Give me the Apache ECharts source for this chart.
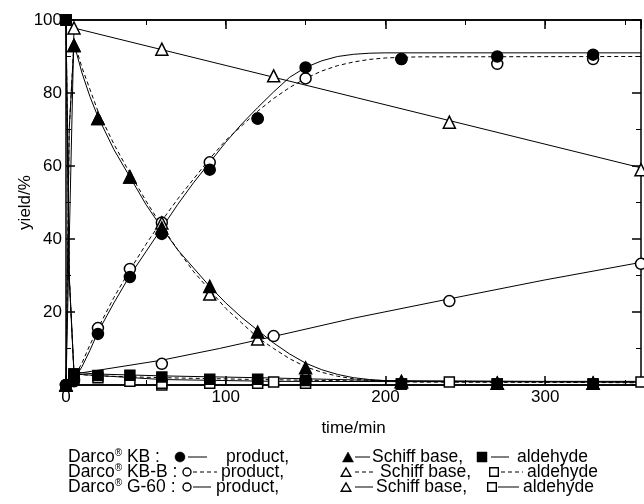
<!DOCTYPE html>
<html><head><meta charset="utf-8">
<script src="https://cdn.jsdelivr.net/npm/echarts@6/dist/echarts.min.js"></script>
<style>html,body{margin:0;padding:0;background:#fff}#c{width:644px;height:504px}</style>
</head><body><div id="c"></div>
<script>
// ---- measured data ----
const timeKB = [0, 5, 20, 40, 60, 90, 120, 150, 210, 270, 330];
const kbProduct = [0, 1, 14, 29.6, 41.4, 59, 73, 87, 89.3, 90, 90.5];
const kbSchiff = [0, 93, 73, 57, 43, 27, 14.5, 4.7, 1, 0.5, 0.5];
const kbAldehyde = [100, 3, 2.6, 2.7, 2.2, 1.6, 1.6, 1.2, 0.3, 0.3, 0.3];

const timeKBB = [0, 5, 20, 40, 60, 90, 120, 150, 210, 270, 330];
const kbbProduct = [0, 1.5, 15.6, 31.8, 44.5, 61, 73, 84, 89.3, 88, 89.3];
const kbbSchiff = [0, 93, 73, 57, 44.4, 24.9, 12.6, 3, 0.8, 0.5, 0.5];
const kbbAldehyde = [100, 2.5, 2, 1, 0.5, 0.5, 0.5, 0.5, 0.3, 0.3, 0.3];

const timeG = [0, 5, 60, 130, 240, 360];
const gProduct = [0, 1.5, 5.8, 13.4, 23, 33.2];
const gSchiff = [0, 97.8, 92, 84.7, 72, 59];
const gAldehyde = [100, 3, 0, 0.8, 0.8, 0.8];

// fitted curves
const fitKBProductT = [0, 5, 10, 15, 20, 30, 40, 50, 60, 70, 80, 90, 100, 110, 120, 130, 140, 150, 160, 170, 180, 190, 200, 210, 360];
const fitKBProduct  = [0, 1.5, 5, 9.5, 14.5, 22.5, 30, 36.5, 43, 49.5, 55.5, 61, 66.5, 71.5, 76, 80.3, 84.3, 87, 88.8, 90, 90.6, 90.9, 91, 91, 91];
const fitKBBProductT = [0, 5, 10, 15, 20, 30, 40, 50, 60, 70, 80, 90, 100, 110, 120, 130, 140, 150, 160, 170, 180, 190, 200, 220, 360];
const fitKBBProduct  = [0, 2, 6, 11, 15.5, 24, 31.5, 38.5, 45, 51, 56.5, 62, 67, 71, 75, 78.5, 81.5, 84, 86, 87.5, 88.5, 89.2, 89.6, 89.9, 90];
const fitKBSchiffT = [0, 2, 5, 10, 15, 20, 30, 40, 50, 60, 70, 80, 90, 100, 110, 120, 130, 140, 150, 160, 170, 180, 190, 200, 220, 360];
const fitKBSchiff  = [0, 70, 93.5, 85.5, 79, 73.5, 64.5, 57, 49.5, 43, 37, 32, 27, 22.5, 18.5, 15, 11.5, 8.5, 6, 4.2, 2.9, 2, 1.5, 1.2, 1, 1];
const fitKBBSchiffT = [0, 2, 5, 10, 15, 20, 30, 40, 50, 60, 70, 80, 90, 100, 110, 120, 130, 140, 150, 160, 170, 180, 190, 200, 220, 360];
const fitKBBSchiff  = [0, 70, 94, 87, 81, 75, 66, 58, 50.5, 43.5, 37, 31, 26, 21, 17, 13, 10, 7.2, 5, 3.5, 2.4, 1.7, 1.3, 1, 0.8, 0.8];
const fitGProductT = [0, 5, 60, 96, 130, 180, 240, 300, 360];
const fitGProduct  = [0, 3, 6.8, 10, 13.3, 18.3, 23.6, 28.8, 33.6];
const fitGSchiffT = [0, 5, 360];
const fitGSchiff  = [0, 97.8, 59.5];
const fitKBAldT = [0, 2, 5, 20, 60, 120, 200, 360];
const fitKBAld  = [100, 30, 3.5, 3, 2.5, 2, 1.2, 0.8];
const fitKBBAldT = [0, 2, 5, 20, 60, 120, 200, 360];
const fitKBBAld  = [100, 30, 3, 2.5, 2, 1.5, 1, 0.6];
const fitGAldT = [0, 2, 5, 60, 130, 360];
const fitGAld  = [100, 30, 3, 1.5, 1, 0.8];

const xTicks = [0, 100, 200, 300];
const yTicks = [20, 40, 60, 80, 100];

// legend text rows
const legendRows = ['KB', 'KB-B', 'G-60'];
const legendWords = ['product,', 'Schiff base,', 'aldehyde'];

function pairs(t, v) { return t.map((x, i) => [x, v[i]]); }

const FONT = 'Liberation Sans, Arial, sans-serif';
const chart = echarts.init(document.getElementById('c'), null, {renderer: 'canvas'});

function lineS(t, v, dashed) {
  return {
    type: 'line', data: pairs(t, v), showSymbol: false, symbol: 'none', smooth: false,
    silent: true, z: 2,
    lineStyle: {color: '#000', width: 1, type: dashed ? [4, 3] : 'solid'}
  };
}
function scat(t, v, symbol, filled, size) {
  return {
    type: 'scatter', data: pairs(t, v), symbol: symbol, symbolSize: size, z: 3,
    itemStyle: {color: filled ? '#000' : '#fff', borderColor: '#000', borderWidth: 1.5, opacity: 1}
  };
}

const axisCommon = {
  axisLine: {show: true, onZero: false, lineStyle: {color: '#000', width: 1.5}},
  splitLine: {show: false}
};

const option = {
  backgroundColor: '#fff',
  animation: false,
  grid: {left: 66, right: 3, top: 20, bottom: 119, containLabel: false},
  xAxis: [
    Object.assign({}, axisCommon, {
      type: 'value', position: 'bottom', min: 0, max: 360, interval: 100,
      name: 'time/min', nameLocation: 'middle', nameGap: 35, nameMoveOverlap: false,
      nameTextStyle: {fontSize: 17, color: '#000', fontFamily: FONT},
      axisTick: {show: true, inside: true, length: 9, lineStyle: {color: '#000', width: 1.5}},
      axisLabel: {show: true, fontSize: 17, color: '#000', fontFamily: FONT, margin: 4, showMaxLabel: false,
        formatter: v => xTicks.includes(v) ? String(v) : ''}
    }),
    Object.assign({}, axisCommon, {
      type: 'value', position: 'bottom', min: 0, max: 360, interval: 50,
      axisTick: {show: true, inside: true, length: 5, lineStyle: {color: '#000', width: 1}},
      axisLabel: {show: false}
    }),
    Object.assign({}, axisCommon, {
      type: 'value', position: 'top', min: 0, max: 360, interval: 100,
      axisTick: {show: true, inside: true, length: 9, lineStyle: {color: '#000', width: 1.5}},
      axisLabel: {show: false}
    }),
    Object.assign({}, axisCommon, {
      type: 'value', position: 'top', min: 0, max: 360, interval: 50,
      axisTick: {show: true, inside: true, length: 5, lineStyle: {color: '#000', width: 1}},
      axisLabel: {show: false}
    })
  ],
  yAxis: [
    Object.assign({}, axisCommon, {
      type: 'value', position: 'left', min: 0, max: 100, interval: 20,
      name: 'yield/%', nameLocation: 'middle', nameGap: 32, nameRotate: 90, nameMoveOverlap: false,
      nameTextStyle: {fontSize: 17, color: '#000', fontFamily: FONT},
      axisTick: {show: true, inside: true, length: 9, lineStyle: {color: '#000', width: 1.5}},
      minorTick: {show: true, splitNumber: 2, length: 5, lineStyle: {color: '#000', width: 1}},
      axisLabel: {show: true, fontSize: 17, color: '#000', fontFamily: FONT, margin: 4, showMinLabel: false,
        formatter: v => yTicks.includes(v) ? String(v) : ''}
    }),
    Object.assign({}, axisCommon, {
      type: 'value', position: 'right', min: 0, max: 100, interval: 20,
      axisTick: {show: true, inside: true, length: 9, lineStyle: {color: '#000', width: 1.5}},
      minorTick: {show: true, splitNumber: 2, length: 5, lineStyle: {color: '#000', width: 1}},
      axisLabel: {show: false}
    })
  ],
  series: [
    lineS(fitGAldT, fitGAld, false),
    lineS(fitKBBAldT, fitKBBAld, true),
    lineS(fitKBAldT, fitKBAld, false),
    lineS(fitGProductT, fitGProduct, false),
    lineS(fitGSchiffT, fitGSchiff, false),
    lineS(fitKBBSchiffT, fitKBBSchiff, true),
    lineS(fitKBSchiffT, fitKBSchiff, false),
    lineS(fitKBBProductT, fitKBBProduct, true),
    lineS(fitKBProductT, fitKBProduct, false),
    scat(timeG, gAldehyde, 'rect', false, 10),
    scat(timeKBB, kbbAldehyde, 'rect', false, 10),
    scat(timeG, gProduct, 'circle', false, 11),
    scat(timeKBB, kbbProduct, 'circle', false, 11),
    scat(timeG, gSchiff, 'triangle', false, 12),
    scat(timeKBB, kbbSchiff, 'triangle', false, 12),
    scat(timeKB, kbAldehyde, 'rect', true, 10),
    scat(timeKB, kbProduct, 'circle', true, 11),
    scat(timeKB, kbSchiff, 'triangle', true, 12)
  ],
  graphic: []
};

// ---- legend block (text + key glyphs) ----
const rowY = [457, 472, 487];
const rowLayout = [
  {sym: [180, 348, 482], seg: [[188, 207], [355, 370], [491, 509]], word: [226, 372, 517], filled: true, dashed: false},
  {sym: [187, 346, 494], seg: [[193, 217], [355, 376], [501, 523]], word: [221, 380, 527], filled: false, dashed: true},
  {sym: [187, 346, 492], seg: [[193, 211], [355, 373], [498, 519]], word: [216, 376, 523], filled: false, dashed: false}
];
const rich = {
  t: {fontSize: 17.5, fontFamily: FONT, color: '#000', lineHeight: 17},
  s: {fontSize: 10, fontFamily: FONT, color: '#000', lineHeight: 17, verticalAlign: 'top'}
};
function glyph(kind, cx, cy, filled) {
  const st = {fill: filled ? '#000' : '#fff', stroke: '#000', lineWidth: filled ? 0.5 : 1.4};
  if (kind === 0) return {type: 'circle', shape: {cx: cx, cy: cy, r: filled ? 5 : 4}, style: st, z: 10};
  if (kind === 1) {
    const w = filled ? 5.5 : 4.8, h = filled ? 5 : 4.2;
    return {type: 'polygon', shape: {points: [[cx, cy - h], [cx + w, cy + h], [cx - w, cy + h]]}, style: st, z: 10};
  }
  const s = filled ? 5 : 4.3;
  return {type: 'rect', shape: {x: cx - s, y: cy - s, width: 2 * s, height: 2 * s}, style: st, z: 10};
}
legendRows.forEach((row, r) => {
  const L = rowLayout[r], y = rowY[r];
  option.graphic.push({type: 'text', x: 68, y: y, z: 10,
    style: {text: '{t|Darco}{s|®}{t| ' + row + ' :}', rich: rich, fill: '#000', verticalAlign: 'middle', align: 'left'}});
  for (let k = 0; k < 3; k++) {
    option.graphic.push(glyph(k, L.sym[k], y, L.filled));
    option.graphic.push({type: 'line', z: 10,
      shape: {x1: L.seg[k][0], y1: y, x2: L.seg[k][1], y2: y},
      style: {stroke: '#000', lineWidth: 1, lineDash: L.dashed ? [4, 3] : null}});
    option.graphic.push({type: 'text', x: L.word[k], y: y, z: 10,
      style: {text: legendWords[k], font: '17.5px ' + FONT, fill: '#000', verticalAlign: 'middle', align: 'left'}});
  }
});

chart.setOption(option);
</script>
</body></html>
